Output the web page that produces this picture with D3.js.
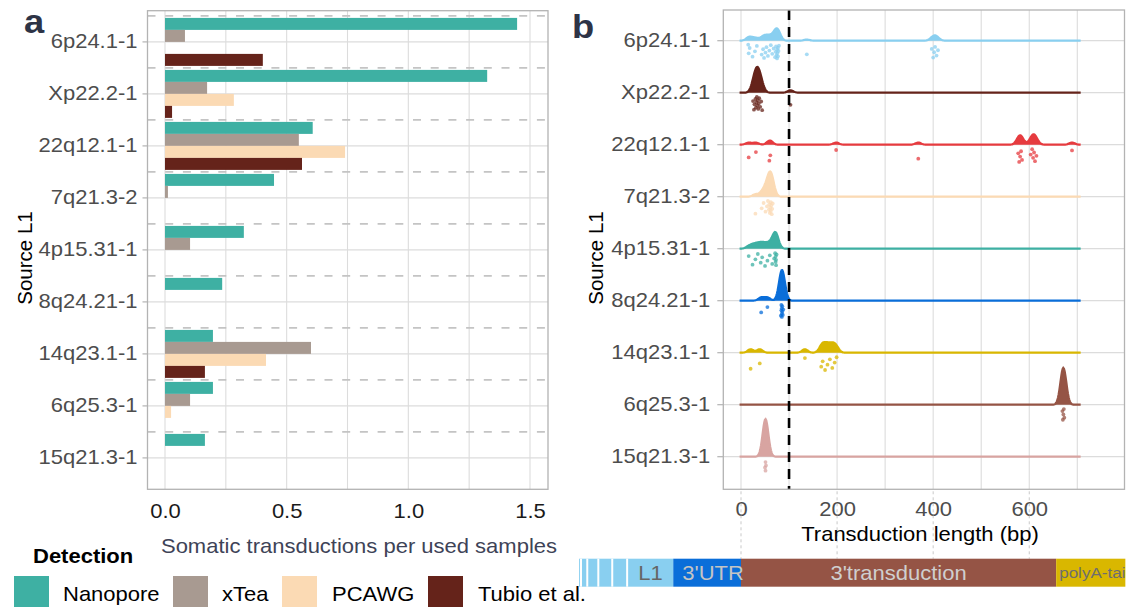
<!DOCTYPE html>
<html>
<head>
<meta charset="utf-8">
<script src="https://cdn.jsdelivr.net/npm/d3@7"></script>
<style>
  body { margin: 0; background: #fff; }
  text { font-family: "Liberation Sans", Arial, sans-serif; }
</style>
</head>
<body>
<svg id="chart" width="1126" height="607"></svg>
<script>
// ---- data ----
const sources = ["6p24.1-1", "Xp22.2-1", "22q12.1-1", "7q21.3-2", "4p15.31-1",
                 "8q24.21-1", "14q23.1-1", "6q25.3-1", "15q21.3-1"];
const methods = ["Nanopore", "xTea", "PCAWG", "Tubio et al."];

// somatic transductions per used samples (panel a)
const nanopore = [1.447, 1.324, 0.607, 0.448, 0.324, 0.235, 0.197, 0.197, 0.164];
const xtea     = [0.082, 0.173, 0.550, 0.012, 0.103, 0,     0.600, 0.103, 0];
const pcawg    = [0,     0.283, 0.740, 0,     0,     0,     0.415, 0.025, 0];
const tubio    = [0.402, 0.029, 0.563, 0,     0,     0,     0.164, 0,     0];

// transduction lengths in bp (panel b)
const len6p24  = [15, 16, 18, 24, 29, 33, 43, 46, 48, 51, 53, 56, 59, 62, 65, 68, 71, 72, 73, 74,
                  75, 75, 76, 77, 77, 78, 79, 137, 397, 400, 402, 404, 407, 410];
const lenXp22  = [25, 27, 28, 30, 31, 32, 33, 34, 35, 36, 37, 38, 40, 42, 44, 103];
const len22q12 = [16, 31, 59, 61, 198, 369, 577, 579, 581, 583, 585, 603, 606, 608, 610, 612, 615, 689];
const len7q21  = [30, 43, 47, 51, 54, 56, 58, 59, 60, 61, 62, 62, 63, 64, 65, 66];
const len4p15  = [16, 24, 30, 35, 41, 44, 50, 55, 60, 65, 69, 71, 72, 72, 73, 73, 74];
const len8q24  = [42, 55, 83, 84, 84, 85, 85, 85, 86, 86, 87, 88];
const len14q23 = [20, 39, 133, 167, 170, 175, 180, 185, 190, 195, 199];
const len6q25  = [669, 670, 671, 672, 673];
const len15q21 = [50, 51, 51, 52];
const lengths = [len6p24, lenXp22, len22q12, len7q21, len4p15, len8q24, len14q23, len6q25, len15q21];

const xTicksA = [0, 0.5, 1, 1.5];
const xTicksB = [0, 200, 400, 600];
const cutoff = 100;

// L1 scheme under panel b (bp coordinates)
const schemeLabels = ["", "L1", "3'UTR", "3'transduction", "polyA-tail"];
const schemeStart  = [-337, -236, -141, 0, 656];
const schemeEnd    = [-236, -141, 0, 656, 800];
const stripeBreaks = [-333, -320, -297, -268, -237];

// ---- styles ----
const methodColors = ["#3EB0A3", "#A89A91", "#FBDAB4", "#65231A"];
const sourceColors = ["#89CFF0", "#65231A", "#E63B3F", "#FBDAB4", "#3EB0A3",
                      "#0A6ED9", "#D9B700", "#955445", "#D8A4A1"];
const schemeColors = ["#89CFF0", "#89CFF0", "#0A6ED9", "#955445", "#D9B700"];
const schemeText   = ["#666", "#666", "#C4C4C4", "#CFCFCF", "#6E6E6E"];
const grid = "#DCDCDC", border = "#B3B3B3";
const sx = 1.1;     // horizontal text stretch
const fs = 20;

const svg = d3.select("#chart");

function stretch(sel) {
  sel.each(function () {
    const t = d3.select(this);
    const x = +t.attr("x") || 0;
    t.attr("x", x / sx).attr("transform", (t.attr("transform") || "") + " scale(" + sx + ",1)");
  });
}

// ================= panel a =================
const A = { left: 147.5, right: 548, top: 10.7, bottom: 489.3 };
const xa = d3.scaleLinear().domain([0, 1.5]).range([165, 530]);
const ya = d3.scaleBand().domain(sources).range([15.9, 15.9 + 52 * 9]);
const yin = d3.scaleBand().domain(methods).range([2, 50]);
const ga = svg.append("g");

ga.selectAll("line.vg").data(d3.range(0, 1.51, 0.25)).enter().append("line")
  .attr("x1", d => xa(d)).attr("x2", d => xa(d))
  .attr("y1", A.top).attr("y2", A.bottom)
  .style("stroke", grid).style("stroke-width", 1.1);

ga.selectAll("line.hg").data(sources).enter().append("line")
  .attr("x1", A.left).attr("x2", A.right)
  .attr("y1", d => ya(d) + ya.bandwidth() / 2).attr("y2", d => ya(d) + ya.bandwidth() / 2)
  .style("stroke", grid).style("stroke-width", 1.3);

ga.selectAll("line.sep").data(sources).enter().append("line")
  .attr("x1", A.left).attr("x2", A.right)
  .attr("y1", d => ya(d)).attr("y2", d => ya(d))
  .style("stroke", "#C4C4C4").style("stroke-width", 1.6)
  .style("stroke-dasharray", "8,9.7");

const barSeries = [nanopore, xtea, pcawg, tubio];
barSeries.forEach((vals, m) => {
  ga.selectAll("rect.m" + m)
    .data(vals.map((v, i) => ({ v: v, s: sources[i] })).filter(d => d.v > 0))
    .enter().append("rect")
    .style("fill", methodColors[m])
    .attr("x", xa(0))
    .attr("y", d => ya(d.s) + yin(methods[m]))
    .attr("width", d => xa(d.v) - xa(0))
    .attr("height", yin.bandwidth());
});

ga.append("rect")
  .attr("x", A.left).attr("y", A.top)
  .attr("width", A.right - A.left).attr("height", A.bottom - A.top)
  .style("fill", "none").style("stroke", border).style("stroke-width", 1.3);

const ayA = ga.append("g")
  .attr("transform", "translate(" + A.left + ",0)")
  .call(d3.axisLeft(ya).tickSize(5).tickPadding(5));
ayA.select(".domain").remove();
ayA.selectAll("line").style("stroke", border).style("stroke-width", 1.2);
ayA.selectAll("text").style("font-size", fs + "px").style("fill", "#4D4D4D");
stretch(ayA.selectAll("text"));

const axA = ga.append("g")
  .attr("transform", "translate(0," + A.bottom + ")")
  .call(d3.axisBottom(xa).tickValues(xTicksA).tickFormat(d3.format(".1f")).tickSize(0).tickPadding(15));
axA.select(".domain").remove();
axA.selectAll("text").style("font-size", fs + "px").style("fill", "#1A1A1A");
stretch(axA.selectAll("text"));

// ================= panel b =================
const B = { left: 723.3, right: 1124.5, top: 10, bottom: 489.3 };
const xb = d3.scaleLinear().domain([0, 700]).range([741, 1077.3]);
const yb = d3.scaleBand().domain(sources).range([14.7, 14.7 + 52 * 9]);
const gb = svg.append("g");

gb.selectAll("line.vg").data(d3.range(0, 701, 100)).enter().append("line")
  .attr("x1", d => xb(d)).attr("x2", d => xb(d))
  .attr("y1", B.top).attr("y2", B.bottom)
  .style("stroke", grid).style("stroke-width", 1.1);

gb.selectAll("line.hg").data(sources).enter().append("line")
  .attr("x1", B.left).attr("x2", B.right)
  .attr("y1", d => yb(d) + 26).attr("y2", d => yb(d) + 26)
  .style("stroke", grid).style("stroke-width", 1.3);

// joint-bandwidth gaussian densities
const bw = 6;
const allLen = lengths.flat();
const from = d3.min(allLen) - 3 * bw, to = d3.max(allLen) + 3 * bw;
const xs = d3.range(512).map(i => from + (to - from) * i / 511);
const gauss = u => Math.exp(-0.5 * u * u) / Math.sqrt(2 * Math.PI);
const dens = lengths.map(arr => xs.map(g => [g, d3.mean(arr, v => gauss((g - v) / bw)) / bw]));
const maxD = d3.max(dens, d => d3.max(d, p => p[1]));
const hb = d3.scaleLinear().domain([0, maxD]).range([0, 37.5]);

sources.forEach((s, i) => {
  const base = yb(s) + 26;
  const area = d3.area().x(p => xb(p[0])).y0(base).y1(p => base - hb(p[1]));
  const line = d3.line().x(p => xb(p[0])).y(p => base - hb(p[1]));
  gb.append("path").datum(dens[i]).attr("d", area).style("fill", sourceColors[i]);
  gb.append("path").datum(dens[i]).attr("d", line)
    .style("fill", "none").style("stroke", sourceColors[i]).style("stroke-width", 2.2);
  gb.selectAll("circle.p" + i).data(lengths[i]).enter().append("circle")
    .attr("cx", v => xb(v))
    .attr("cy", (v, j) => base + 4 + 14 * ((j * 0.618034 + i * 0.31) % 1))
    .attr("r", 1.9)
    .style("fill", sourceColors[i]).style("opacity", 0.75);
});

gb.append("line")
  .attr("x1", xb(cutoff)).attr("x2", xb(cutoff))
  .attr("y1", B.top).attr("y2", B.bottom)
  .style("stroke", "#000").style("stroke-width", 2.6)
  .style("stroke-dasharray", "10,7");

gb.append("rect")
  .attr("x", B.left).attr("y", B.top)
  .attr("width", B.right - B.left).attr("height", B.bottom - B.top)
  .style("fill", "none").style("stroke", border).style("stroke-width", 1.3);

const ayB = gb.append("g")
  .attr("transform", "translate(" + B.left + ",0)")
  .call(d3.axisLeft(yb).tickSize(6).tickPadding(7));
ayB.select(".domain").remove();
ayB.selectAll("line").style("stroke", border).style("stroke-width", 1.2);
ayB.selectAll("text").style("font-size", fs + "px").style("fill", "#4D4D4D");
stretch(ayB.selectAll("text"));

const axB = gb.append("g")
  .attr("transform", "translate(0," + B.bottom + ")")
  .call(d3.axisBottom(xb).tickValues(xTicksB).tickSize(0).tickPadding(12.5));
axB.select(".domain").remove();
axB.selectAll("text").style("font-size", fs + "px").style("fill", "#4D4D4D");
stretch(axB.selectAll("text"));

// dotted connectors from x ticks to the scheme
gb.selectAll("line.conn").data(xTicksB).enter().append("line")
  .attr("x1", d => xb(d)).attr("x2", d => xb(d))
  .attr("y1", B.bottom + 2).attr("y2", 558.7)
  .style("stroke", "#BBBBBB").style("stroke-width", 0.8)
  .style("stroke-dasharray", "3,3");

// L1 scheme
const gs = svg.append("g");
gs.selectAll("rect.seg").data(schemeLabels).enter().append("rect")
  .attr("x", (d, i) => xb(schemeStart[i]))
  .attr("width", (d, i) => xb(schemeEnd[i]) - xb(schemeStart[i]))
  .attr("y", 558.7).attr("height", 28)
  .style("fill", (d, i) => schemeColors[i]);
gs.selectAll("line.stripe").data(stripeBreaks).enter().append("line")
  .attr("x1", d => xb(d)).attr("x2", d => xb(d))
  .attr("y1", 558.7).attr("y2", 586.7)
  .style("stroke", "#fff").style("stroke-width", 2);
gs.selectAll("text.seg").data(schemeLabels).enter().append("text")
  .attr("x", (d, i) => i === 4 ? xb(schemeStart[i]) + 3 : (xb(schemeStart[i]) + xb(schemeEnd[i])) / 2 + (i === 2 ? 6 : 0))
  .attr("y", (d, i) => i === 4 ? 578.5 : 580.5)
  .attr("text-anchor", (d, i) => i === 4 ? "start" : "middle")
  .style("font-size", (d, i) => i === 4 ? "15.5px" : fs + "px")
  .style("fill", (d, i) => schemeText[i])
  .text(d => d)
  .call(stretch);

// ================= titles & legend =================
function label(x, y, txt, opts) {
  const t = svg.append("text").attr("x", x).attr("y", y).text(txt)
    .style("font-size", (opts.size || fs) + "px")
    .style("fill", opts.fill || "#000")
    .style("font-weight", opts.bold ? "bold" : "normal")
    .attr("text-anchor", opts.anchor || "start");
  if (opts.rotate) t.attr("x", 0).attr("y", 0).attr("transform", "translate(" + x + "," + y + ") rotate(-90)");
  else stretch(t);
  return t;
}

label(24, 33, "a", { size: 33, bold: true, fill: "#2D3346" });
label(572, 38, "b", { size: 33, bold: true, fill: "#2D3346" });
label(32, 258, "Source L1", { rotate: true, anchor: "middle", size: 20.5 });
label(603, 258, "Source L1", { rotate: true, anchor: "middle", size: 20.5 });
label(359, 553, "Somatic transductions per used samples", { anchor: "middle", fill: "#3E4357" });
label(920, 541.5, "Transduction length (bp)", { anchor: "middle" });

label(33, 563, "Detection", { bold: true });
const keyX = [14, 173, 282, 428];
const keyTextX = [63, 222, 332, 478];
methods.forEach((m, i) => {
  svg.append("rect").attr("x", keyX[i]).attr("y", 576).attr("width", 35).attr("height", 35)
    .style("fill", methodColors[i]);
  label(keyTextX[i], 601, m, {});
});
</script>
</body>
</html>
